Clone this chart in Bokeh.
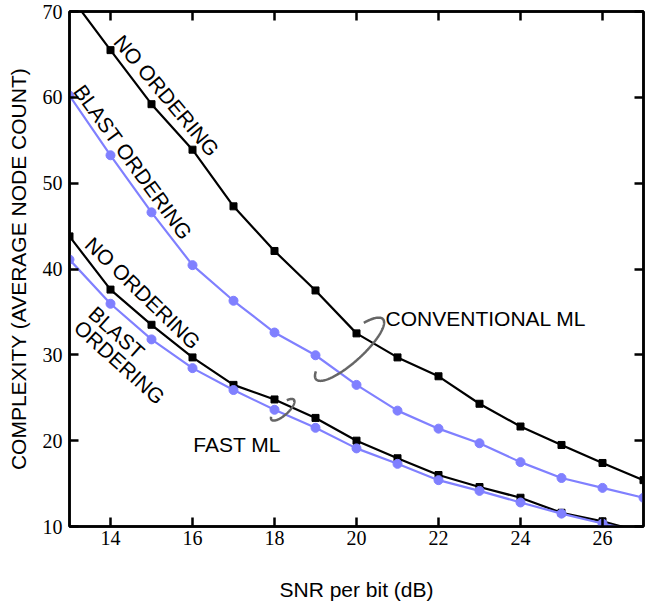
import numpy as np
from bokeh.plotting import figure
from bokeh.models import LinearAxis, Range1d, FixedTicker
from bokeh.embed import file_html
from bokeh.resources import INLINE
from bokeh.core.properties import value

# ---------------- data ----------------
snr = [13, 14, 15, 16, 17, 18, 19, 20, 21, 22, 23, 24, 25, 26, 27]
conv_no_order = [71.9, 65.5, 59.2, 53.9, 47.3, 42.1, 37.5, 32.5, 29.7, 27.5, 24.3, 21.65, 19.5, 17.4, 15.4]
conv_blast = [60.2, 53.25, 46.6, 40.45, 36.3, 32.6, 29.95, 26.5, 23.5, 21.4, 19.7, 17.5, 15.65, 14.5, 13.35]
fast_no_order = [43.8, 37.6, 33.5, 29.7, 26.5, 24.8, 22.65, 20.0, 17.95, 16.0, 14.6, 13.35, 11.6, 10.6, 9.3]
fast_blast = [41.1, 35.95, 31.8, 28.45, 25.9, 23.6, 21.5, 19.1, 17.3, 15.4, 14.15, 12.8, 11.5, 10.35, 9.3]

x_ticks = [14, 16, 18, 20, 22, 24, 26]
y_ticks = [10, 20, 30, 40, 50, 60, 70]

BLACK = "#000000"
BLUE = "#8080ff"
GRAY = "#666666"
FONT = "Liberation Sans"
SERIF = "Liberation Serif"

# ---------------- layout ----------------
W, H = 645, 606
BL, BR, BT, BB = 69, 2, 11, 80
X0, X1, Y0, Y1 = 13, 27, 10, 70
px_x = (W - BL - BR) / (X1 - X0)
px_y = (H - BT - BB) / (Y1 - Y0)

p = figure(width=W, height=H, x_range=Range1d(X0, X1), y_range=Range1d(Y0, Y1),
           output_backend="svg", toolbar_location=None,
           min_border_left=BL, min_border_right=BR, min_border_top=BT, min_border_bottom=BB)
p.grid.visible = False
p.outline_line_color = "black"
p.outline_line_width = 2.5
p.background_fill_color = "white"
p.border_fill_color = "white"

def style_axis(ax, labels=True):
    ax.axis_line_color = "black"
    ax.axis_line_width = 2.5
    ax.major_tick_line_color = "black"
    ax.major_tick_line_width = 2.5
    ax.major_tick_in = 9
    ax.major_tick_out = 0
    ax.minor_tick_line_color = None
    if labels:
        ax.major_label_text_font = SERIF
        ax.major_label_text_font_size = "20px"
        ax.major_label_text_color = "black"
    else:
        ax.major_label_text_font_size = "0px"
        ax.major_label_text_color = None
        ax.major_label_standoff = 0

xa = p.xaxis[0]
ya = p.yaxis[0]
xa.ticker = FixedTicker(ticks=x_ticks)
ya.ticker = FixedTicker(ticks=y_ticks)
style_axis(xa)
style_axis(ya)
xa.major_label_standoff = 4
ya.major_label_standoff = 7
xa.axis_label = "SNR per bit (dB)"
ya.axis_label = "COMPLEXITY (AVERAGE NODE COUNT)"
for ax in (xa, ya):
    ax.axis_label_text_font = FONT
    ax.axis_label_text_font_size = "21px"
    ax.axis_label_text_font_style = "normal"
    ax.axis_label_text_color = "black"
xa.axis_label_standoff = 30
ya.axis_label_standoff = 10

ra = LinearAxis(ticker=FixedTicker(ticks=y_ticks))
ta = LinearAxis(ticker=FixedTicker(ticks=x_ticks))
style_axis(ra, labels=False)
style_axis(ta, labels=False)
p.add_layout(ra, "right")
p.add_layout(ta, "above")

# ---------------- curves ----------------
for ys, col, marker, size in [
    (conv_no_order, BLACK, "square", 7),
    (conv_blast, BLUE, "circle", 9),
    (fast_no_order, BLACK, "square", 7),
    (fast_blast, BLUE, "circle", 9),
]:
    p.line(snr, ys, line_color=col, line_width=2.2)
    p.scatter(snr, ys, marker=marker, size=size, fill_color=col, line_color=col)

# ---------------- ellipse arcs (annotation marks) ----------------
def ellipse_arc(cx, cy, a_px, b_px, ang_deg, t0, t1):
    t = np.radians(np.linspace(t0, t1, 160))
    ang = np.radians(ang_deg)
    ux, uy = np.cos(ang), np.sin(ang)
    nx, ny = np.sin(ang), -np.cos(ang)
    dx = a_px * np.cos(t) * ux + b_px * np.sin(t) * nx
    dy = a_px * np.cos(t) * uy + b_px * np.sin(t) * ny
    return cx + dx / px_x, cy + dy / px_y

ex, ey = ellipse_arc(19.83, 30.65, 45, 13, 42, -51, 208)
p.line(ex, ey, line_color=GRAY, line_width=2.5)
ex2, ey2 = ellipse_arc(18.2, 23.6, 15, 5.5, 42, -51, 208)
p.line(ex2, ey2, line_color=GRAY, line_width=2.5)

# ---------------- labels ----------------
def label(x, y, txt, angle_deg=0.0, align="center", baseline="middle"):
    p.text(x=[x], y=[y], text=[txt], angle=np.radians(angle_deg),
           text_font=value(FONT), text_font_size="21px", text_color="black",
           text_align=align, text_baseline=baseline)

label(15.37, 60.2, "NO ORDERING", -50)
label(14.55, 52.45, "BLAST ORDERING", -54)
label(14.79, 37.2, "NO ORDERING", -44)
label(14.15, 32.6, "BLAST", -42)
label(14.22, 29.15, "ORDERING", -42)
label(20.71, 34.2, "CONVENTIONAL ML", 0, align="left", baseline="alphabetic")
label(16.02, 19.57, "FAST ML", 0, align="left", baseline="alphabetic")

open("out.html", "w").write(file_html(p, INLINE))
